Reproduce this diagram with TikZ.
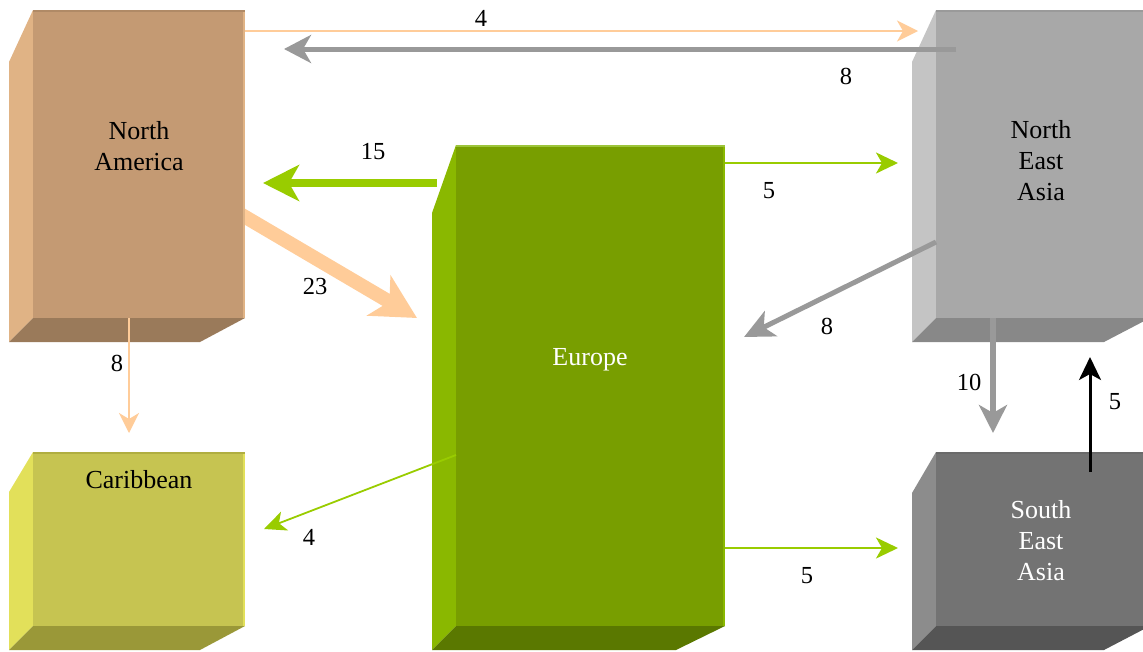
\documentclass[tikz,border=0pt]{standalone}
\usepackage{fontspec}
\setmainfont{Liberation Serif}
\usetikzlibrary{arrows.meta}
\definecolor{naF}{HTML}{C49A73}\definecolor{naS}{HTML}{E0B385}\definecolor{naB}{HTML}{9A7A5A}\definecolor{naT}{HTML}{B08A66}
\definecolor{caF}{HTML}{C6C451}\definecolor{caS}{HTML}{E2E05A}\definecolor{caB}{HTML}{9A9838}\definecolor{caT}{HTML}{B0AE40}
\definecolor{euF}{HTML}{789E00}\definecolor{euS}{HTML}{8AB800}\definecolor{euB}{HTML}{5A7800}\definecolor{euT}{HTML}{9CC43A}
\definecolor{neF}{HTML}{A8A8A8}\definecolor{neS}{HTML}{C4C4C4}\definecolor{neB}{HTML}{888888}\definecolor{neT}{HTML}{9A9A9A}
\definecolor{seF}{HTML}{737373}\definecolor{seS}{HTML}{8C8C8C}\definecolor{seB}{HTML}{555555}\definecolor{seT}{HTML}{6A6A6A}
\definecolor{arO}{HTML}{FFCC99}\definecolor{arG}{HTML}{99CC00}\definecolor{arY}{HTML}{999999}
% #1 name, #2 side x, #3 x1, #4 y1, #5 x2, #6 y2, #7 diag y, #8 bottom-right x, #9 colour prefix
\newcommand\mycube[9]{%
  \fill[#9S] (#3,#4) -- (#2,#7) -- (#2,#6+24) -- (#3,#6) -- cycle;
  \fill[#9B] (#3,#6) -- (#5,#6) -- (#8,#6+24) -- (#2,#6+24) -- cycle;
  \node[frontface, fill=#9F, minimum width=#5-#3, minimum height=#6-#4] (#1) at ({(#3+#5)/2},{(#4+#6)/2}) {};
  \draw[#9T, line width=2pt] (#3,#4+1) -- (#5,#4+1);
  \draw[#9S, line width=2pt] (#5-1,#4+2) -- (#5-1,#6);
}
\begin{document}
\begin{tikzpicture}[x=1pt,y=-1pt,
  frontface/.style={draw=none, inner sep=0pt, outer sep=0pt},
  title/.style={font=\fontsize{26}{31}\selectfont, align=center, inner sep=0pt},
  num/.style={font=\fontsize{24.5}{28}\selectfont, inner sep=0pt},
  flow/.style={line cap=butt}
]
\useasboundingbox (0,0) rectangle (1143,651);

% connector end points
\coordinate (p1s) at (245,31);  \coordinate (p1e) at (918,31);
\coordinate (p2s) at (956,49);  \coordinate (p2e) at (284,49);
\coordinate (p3s) at (437,183); \coordinate (p3e) at (263,183);
\coordinate (p4s) at (230,208); \coordinate (p4e) at (417,318);
\coordinate (p5s) at (129,318); \coordinate (p5e) at (129,433);
\coordinate (p6s) at (725,163); \coordinate (p6e) at (898,163);
\coordinate (p7s) at (936,242); \coordinate (p7e) at (744,337);
\coordinate (p8s) at (993,318); \coordinate (p8e) at (993,433);
\coordinate (p9s) at (1090,472); \coordinate (p9e) at (1090,357);
\coordinate (p10s) at (456,455); \coordinate (p10e) at (264,529);
\coordinate (p11s) at (725,548); \coordinate (p11e) at (898,548);

% the wide flow leaves from behind North America
\draw[flow, arO, line width=14pt, -{Stealth[length=44pt,width=46pt,inset=12pt]}] (p4s) -- (p4e);

\begin{scope}
\clip (0,0) rectangle (1143,651);
\mycube{na}{9}{33}{10}{245}{318}{62}{200}{na}
\mycube{ca}{9}{33}{452}{245}{626}{492}{200}{ca}
\mycube{eu}{432}{456}{145}{725}{626}{213}{676}{eu}
\mycube{ne}{912}{936}{10}{1150}{318}{62}{1104}{ne}
\mycube{se}{912}{936}{452}{1150}{626}{493}{1104}{se}
\end{scope}

\node[title] (naT) at (139,146) {North\\America};
\node[title] (neT) at (1041,161) {North\\East\\Asia};
\node[title, text=white] (euT) at (590,360) {Europe};
\node[title] (caT) at (139,480) {Caribbean};
\node[title, text=white] (seT) at (1041,541) {South\\East\\Asia};

\draw[flow, arO, line width=2pt, -{Stealth[length=21pt,width=21pt,inset=6pt]}] (p1s) -- (p1e);
\draw[flow, arY, line width=5pt, -{Stealth[length=27pt,width=28pt,inset=8pt]}] (p2s) -- (p2e);
\draw[flow, arG, line width=8pt, -{Stealth[length=36pt,width=36pt,inset=10pt]}] (p3s) -- (p3e);
\draw[flow, arO, line width=2pt, -{Stealth[length=20pt,width=20pt,inset=6pt]}] (p5s) -- (p5e);
\draw[flow, arG, line width=2.5pt, -{Stealth[length=22pt,width=21pt,inset=6pt]}] (p6s) -- (p6e);
\draw[flow, arY, line width=5pt, -{Stealth[length=30pt,width=28pt,inset=8pt]}] (p7s) -- (p7e);
\draw[flow, arY, line width=6pt, -{Stealth[length=28pt,width=28pt,inset=8pt]}] (p8s) -- (p8e);
\draw[flow, black, line width=3pt, -{Stealth[length=23pt,width=22pt,inset=6pt]}] (p9s) -- (p9e);
\draw[flow, arG, line width=1.8pt, -{Stealth[length=22pt,width=20pt,inset=6pt]}] (p10s) -- (p10e);
\draw[flow, arG, line width=2.5pt, -{Stealth[length=22pt,width=21pt,inset=6pt]}] (p11s) -- (p11e);

\node[num] (l1) at (481,18) {4};
\node[num] (l2) at (846,76) {8};
\node[num] (l3) at (373,152) {15};
\node[num] (l4) at (315,287) {23};
\node[num] (l5) at (117,363) {8};
\node[num] (l6) at (769,191) {5};
\node[num] (l7) at (827,326) {8};
\node[num] (l8) at (969,382) {10};
\node[num] (l9) at (1115,402) {5};
\node[num] (l10) at (309,537) {4};
\node[num] (l11) at (807,576) {5};
\end{tikzpicture}
\end{document}
